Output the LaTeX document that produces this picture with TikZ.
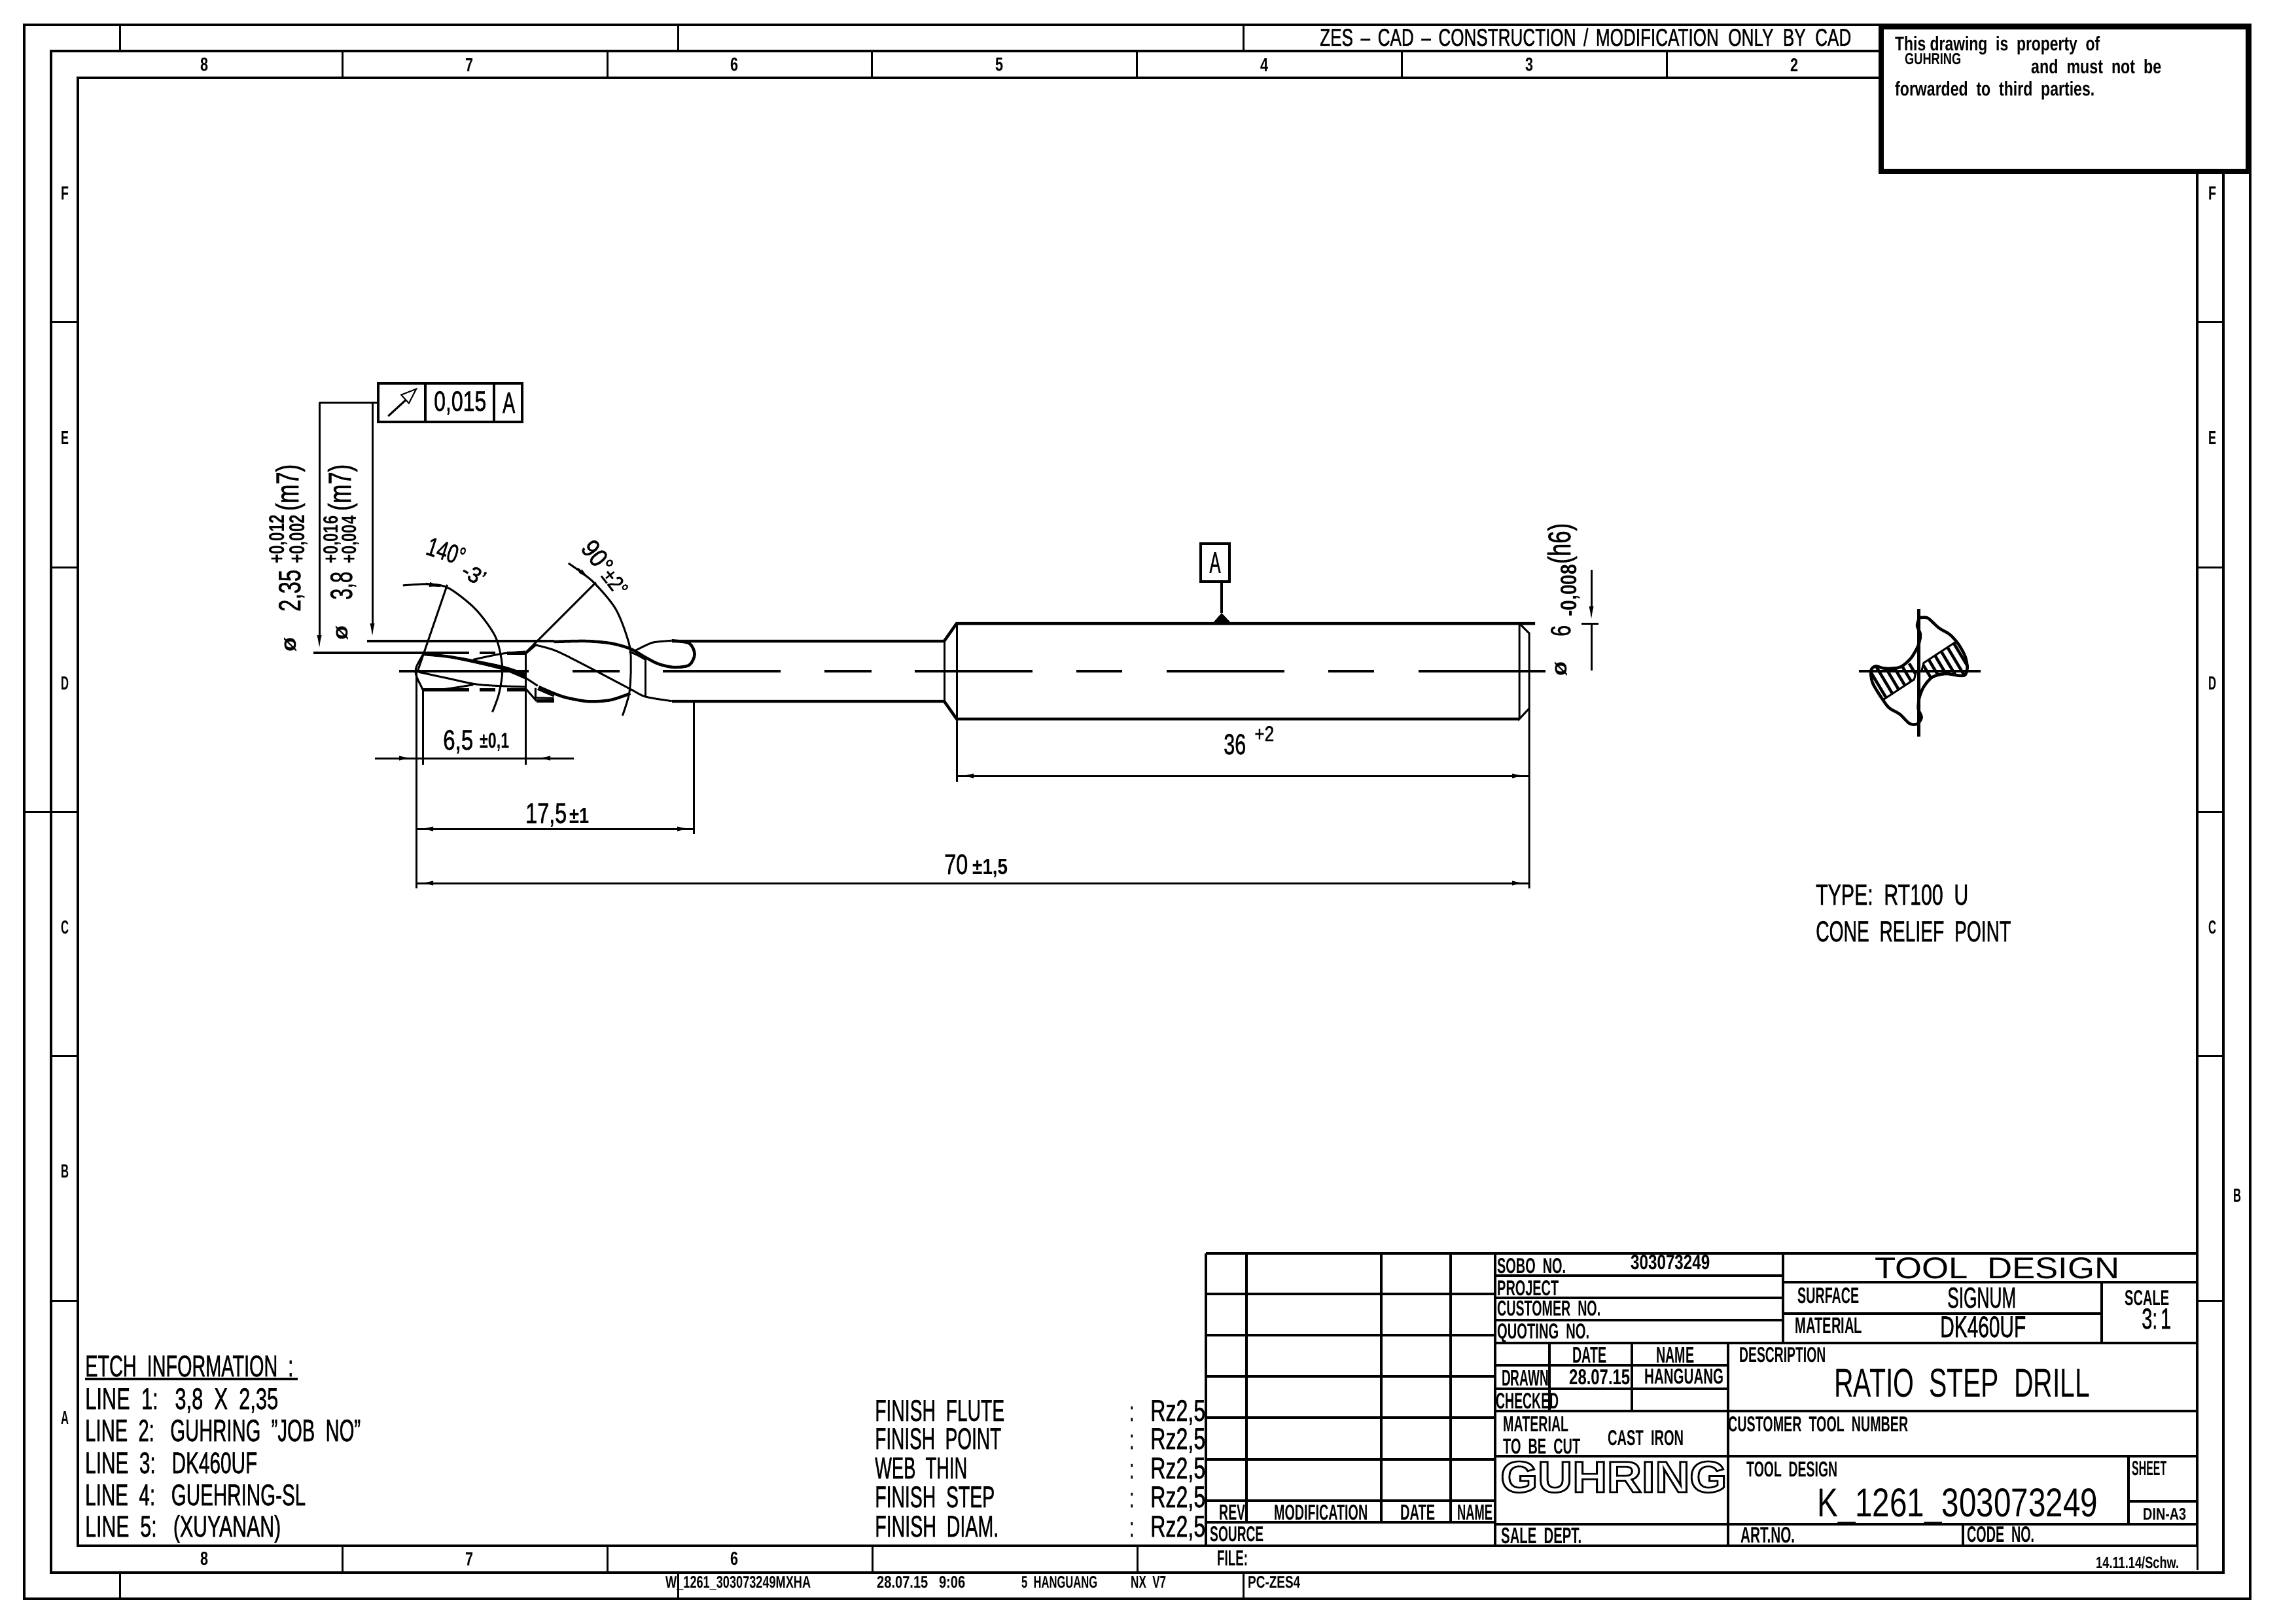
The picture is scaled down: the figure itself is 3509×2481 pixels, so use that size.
\documentclass[tikz,border=0pt]{standalone}
\usepackage{graphicx}
\usepackage{fontspec}
\setmainfont{Liberation Sans}
\usetikzlibrary{arrows.meta,positioning,calc}
\newcommand{\cadthin}[3]{\resizebox{#1pt}{#2pt}{#3}}
\newcommand{\cadt}[3]{\resizebox{#1pt}{#2pt}{\special{pdf:code 2 Tr 0.12 w}#3\special{pdf:code 0 Tr}}}
\newcommand{\cadb}[3]{\resizebox{#1pt}{#2pt}{\bfseries #3}}
\newcommand{\cadhollow}[3]{\resizebox{#1pt}{#2pt}{\bfseries\special{pdf:code 1 Tr 0.4 w}#3\special{pdf:code 0 Tr}}}
\tikzset{
    frameline/.style={draw=black,line width=4pt},
    tickline/.style={draw=black,line width=3pt},
    gridline/.style={draw=black,line width=3.5pt},
    cadline/.style={draw=black,line width=3pt},
    heavyline/.style={draw=black,line width=4.5pt},
    dimline/.style={draw=black,line width=3pt,>={Latex[length=26pt,width=7pt]}},
    lbl/.style={anchor=base west,inner sep=0pt},
    lblup/.style={anchor=base west,inner sep=0pt,rotate=90},
    glyph/.style={anchor=center,inner sep=0pt},
}

\begin{document}
\begin{tikzpicture}[x=1pt,y=-1pt]
\useasboundingbox (0,0) rectangle (3509,2481);

% frames
\draw[frameline] (37,38) rectangle (3439,2444);
\draw[frameline] (78,78) rectangle (3398,2404);
\draw[frameline] (119,119) rectangle (3358,2363);
\foreach \x in {183,1036,1900} {
  \draw[tickline] (\x,38) -- (\x,78);
  \draw[tickline] (\x,2404) -- (\x,2444);
}
\foreach \x in {523,928,1332,1737,2142,2547} \draw[tickline] (\x,78) -- (\x,119);
\foreach \x in {523,928,1333,1738} \draw[tickline] (\x,2363) -- (\x,2404);
\foreach \y in {492,867,1614,1988} \draw[tickline] (78,\y) -- (119,\y);
\draw[tickline] (37,1241) -- (119,1241);
\foreach \y in {492,867,1241,1614,1988} \draw[tickline] (3358,\y) -- (3398,\y);
\foreach \x/\l in {312/8,717/7,1122/6,1527/5,1932/4,2337/3,2742/2}
  \node[glyph] (top\l) at (\x,99) {\cadb{12}{20}{\l}};
\foreach \x/\l in {312/8,717/7,1122/6}
  \node[glyph] (bot\l) at (\x,2383) {\cadb{12}{20}{\l}};
\foreach \y/\l in {295/F,669/E,1044/D,1418/C,1790/B,2167/A}
  \node[glyph] (left\l) at (99,\y) {\cadb{12}{20}{\l}};
\foreach \y/\l in {295/F,669/E,1044/D,1418/C}
  \node[glyph] (right\l) at (3381,\y) {\cadb{12}{20}{\l}};
\node[glyph] (rightB) at (3419,1827) {\cadb{12}{20}{B}};

% header and ownership box
\node[lbl] (zes) at (2017,70) {\cadt{812}{27}{ZES \,--\, CAD \,--\, CONSTRUCTION \,/\, MODIFICATION\ \ ONLY\ \ BY\ \ CAD}};
\draw[draw=black,fill=white,line width=8pt] (2875,41) rectangle (3436,262);
\node[lbl] (own1) at (2896,77) {\cadb{313}{22}{This drawing\ \ is\ \ property\ \ of}};
\node[lbl] (own2) at (2911,99) {\cadb{86}{17}{GUHRING}};
\node[lbl] (own3) at (3104,112) {\cadb{199}{22}{and\ \ must\ \ not\ \ be}};
\node[lbl] (own4) at (2896,146) {\cadb{305}{22}{forwarded\ \ to\ \ third\ \ parties.}};

% title block, revision side
\foreach \y in {1916,1978,2041,2104,2167,2231,2294,2327} \draw[gridline] (1843,\y) -- (2285,\y);
\foreach \x in {1905,2111,2217} \draw[gridline] (\x,1916) -- (\x,2327);
\draw[gridline] (1843,1916) -- (1843,2363);
\draw[gridline] (2285,1916) -- (2285,2363);
\node[lbl] (rev) at (1863,2323) {\cadb{40}{23}{REV}};
\node[lbl] (modif) at (1947,2323) {\cadb{143}{23}{MODIFICATION}};
\node[lbl] (revdate) at (2140,2323) {\cadb{53}{23}{DATE}};
\node[lbl] (revname) at (2227,2323) {\cadb{54}{23}{NAME}};
\node[lbl] (source) at (1849,2356) {\cadb{82}{23}{SOURCE}};
\node[lbl] (file) at (1860,2393) {\cadb{47}{23}{FILE:}};
\node[lbl] (pcname) at (1907,2427) {\cadb{80}{18}{PC-ZES4}};
\node[lbl] (wname) at (1017,2427) {\cadb{222}{18}{W\_1261\_303073249MXHA}};
\node[lbl] (stamp) at (1340,2427) {\cadb{135}{18}{28.07.15\ \ \ 9:06}};
\node[lbl] (user) at (1561,2427) {\cadb{116}{18}{5\ \ HANGUANG}};
\node[lbl] (nxver) at (1728,2427) {\cadb{54}{18}{NX\ \ V7}};

% title block, right side
\draw[gridline] (2285,1916) -- (3358,1916);
\foreach \y in {1950,1984,2018} \draw[gridline] (2285,\y) -- (2725,\y);
\draw[gridline] (2725,1916) -- (2725,2053);
\draw[gridline] (2725,1960) -- (3358,1960);
\draw[gridline] (2725,2008) -- (3212,2008);
\draw[gridline] (3212,1960) -- (3212,2053);
\foreach \y in {2053,2157,2226,2330,2363} \draw[gridline] (2285,\y) -- (3358,\y);
\draw[gridline] (2641,2053) -- (2641,2363);
\draw[gridline] (2368,2053) -- (2368,2157);
\draw[gridline] (2494,2053) -- (2494,2157);
\draw[gridline] (2285,2087) -- (2641,2087);
\draw[gridline] (2285,2123) -- (2641,2123);
\draw[gridline] (3253,2226) -- (3253,2330);
\draw[gridline] (3253,2295) -- (3358,2295);
\draw[gridline] (3000,2330) -- (3000,2363);

\node[lbl] (sobo) at (2288,1946) {\cadb{105}{23}{SOBO\ \ NO.}};
\node[lbl] (sobono) at (2492,1940) {\cadb{121}{22}{303073249}};
\node[lbl] (project) at (2288,1980) {\cadb{94}{23}{PROJECT}};
\node[lbl] (custno) at (2288,2011) {\cadb{158}{23}{CUSTOMER\ \ NO.}};
\node[lbl] (quoting) at (2288,2046) {\cadb{141}{23}{QUOTING\ \ NO.}};
\node[lbl] (tooldesign) at (2865,1954) {\cadthin{374}{32}{TOOL\ \ DESIGN}};
\node[lbl] (surface) at (2747,1992) {\cadb{94}{24}{SURFACE}};
\node[lbl] (signum) at (2976,1999) {\cadt{105}{31}{SIGNUM}};
\node[lbl] (scale) at (3247,1995) {\cadb{68}{23}{SCALE}};
\node[lbl] (ratio) at (3273,2031) {\cadt{45}{31}{3:\,1}};
\node[lbl] (material) at (2743,2038) {\cadb{103}{24}{MATERIAL}};
\node[lbl] (dk) at (2965,2044) {\cadt{131}{32}{DK460UF}};
\node[lbl] (date) at (2403,2083) {\cadb{52}{24}{DATE}};
\node[lbl] (name) at (2531,2083) {\cadb{58}{24}{NAME}};
\node[lbl] (drawn) at (2295,2118) {\cadb{72}{24}{DRAWN}};
\node[lbl] (drawndate) at (2398,2116) {\cadb{93}{23}{28.07.15}};
\node[lbl] (drawnname) at (2513,2115) {\cadb{121}{23}{HANGUANG}};
\node[lbl] (checked) at (2286,2153) {\cadb{96}{24}{CHECKED}};
\node[lbl] (descr) at (2658,2082) {\cadb{132}{23}{DESCRIPTION}};
\node[lbl] (drill) at (2803,2135) {\cadthin{391}{43}{RATIO\ \ STEP\ \ DRILL}};
\node[lbl] (mat1) at (2297,2188) {\cadb{100}{23}{MATERIAL}};
\node[lbl] (mat2) at (2297,2222) {\cadb{118}{23}{TO\ \ BE\ \ CUT}};
\node[lbl] (castiron) at (2457,2209) {\cadb{116}{23}{CAST\ \ IRON}};
\node[lbl] (custtool) at (2641,2188) {\cadb{275}{23}{CUSTOMER\ \ TOOL\ \ NUMBER}};
\node[lbl] (logo) at (2293,2281) {\cadhollow{346}{47}{GUHRING}};
\node[lbl] (tooldesign2) at (2669,2257) {\cadb{139}{23}{TOOL\ \ DESIGN}};
\node[lbl] (toolnumber) at (2777,2318) {\cadthin{429}{43}{K\_1261\_303073249}};
\node[lbl] (sheet) at (3258,2255) {\cadb{53}{22}{SHEET}};
\node[lbl] (din) at (3275,2323) {\cadb{66}{18}{DIN-A3}};
\node[lbl] (sale) at (2294,2359) {\cadb{123}{24}{SALE\ \ DEPT.}};
\node[lbl] (artno) at (2660,2358) {\cadb{83}{24}{ART.NO.}};
\node[lbl] (code) at (3006,2357) {\cadb{103}{24}{CODE\ \ NO.}};
\node[lbl] (scw) at (3203,2397) {\cadb{127}{18}{14.11.14/Schw.}};
\draw[tickline] (3358,2363) -- (3358,2400);

% etch notes
\node[lbl] (etchhead) at (130,2104) {\cadt{318}{32}{ETCH\ \ INFORMATION\ \ :}};
\draw[heavyline] (130,2108) -- (455,2108);
\node[lbl] (etch1) at (130,2154) {\cadt{295}{32}{LINE\ \ 1:\ \ \ 3,8\ \ X\ \ 2,35}};
\node[lbl] (etch2) at (130,2203) {\cadt{421}{33}{LINE\ \ 2:\ \ \ GUHRING\ \ "JOB\ \ NO"}};
\node[lbl] (etch3) at (130,2252) {\cadt{263}{32}{LINE\ \ 3:\ \ \ DK460UF}};
\node[lbl] (etch4) at (130,2301) {\cadt{337}{32}{LINE\ \ 4:\ \ \ GUEHRING-SL}};
\node[lbl] (etch5) at (130,2349) {\cadt{299}{33}{LINE\ \ 5:\ \ \ (XUYANAN)}};

% finish notes
\foreach \y/\n/\l/\w in {2172/a/FINISH\ \ FLUTE/198,2215/b/FINISH\ \ POINT/193,2260/c/WEB\ \ THIN/141,2304/d/FINISH\ \ STEP/183,2349/e/FINISH\ \ DIAM./189} {
  \node[lbl] (finish\n) at (1337,\y) {\cadt{\w}{32}{\l}};
  \node[lbl] (colon\n) at (1726,\y) {\cadt{7}{22}{:}};
  \node[lbl] (rz\n) at (1758,\y) {\cadt{84}{32}{Rz2,5}};
}

% type notes
\node[lbl] (typeline) at (2775,1383) {\cadt{233}{31}{TYPE:\ \ RT100\ \ U}};
\node[lbl] (coneline) at (2775,1439) {\cadt{298}{31}{CONE\ \ RELIEF\ \ POINT}};

% shank and shaft
\draw[heavyline] (1027,980) -- (1443,980) -- (1462,953) -- (2346,953);
\draw[heavyline] (1027,1072) -- (1443,1072) -- (1462,1099) -- (2322,1099);
\draw[cadline] (1443,980) -- (1443,1072);
\draw[cadline] (1462,953) -- (1462,1195);
\draw[cadline] (2322,953) -- (2322,1099) -- (2337,1083);
\draw[cadline] (2322,953) -- (2337,968) -- (2337,1358);
\foreach \a/\b in {1013/1193,1260/1332,1398/1578,1645/1715,1783/1963,2030/2100,2168/2362}
  \draw[heavyline] (\a,1026) -- (\b,1026);

% point and flutes, read at a third of a pixel
\begin{scope}[shift={(600,920)},x=0.3333pt,y=-0.3333pt]
  \draw[heavyline] (-117,180) -- (740,180);
  \draw[heavyline] (-363,234) -- (350,234);
  \draw[heavyline] (400,234) -- (470,234);
  \draw[heavyline] (525,236) -- (612,236);
  \draw[heavyline] (140,403) -- (350,403);
  \draw[heavyline] (400,403) -- (470,403);
  \draw[heavyline] (525,403) -- (612,403);
  \draw[heavyline] (30,318) -- (625,318);
  \draw[heavyline] (825,318) -- (1040,318);
  \draw[cadline] (140,240) .. controls (115,285) and (105,300) .. (105,318) .. controls (105,345) and (125,370) .. (138,403);
  \draw[cadline] (108,318) -- (108,1314);
  \draw[cadline] (138,403) -- (138,746);
  \draw[cadline] (612,236) -- (612,746);
  \draw[cadline] (612,236) -- (660,195);
  \draw[cadline] (612,350) -- (665,385);
  \draw[cadline] (612,400) -- (660,455);
  \draw[heavyline] (660,455) -- (740,455);
  \draw[cadline] (655,395) -- (655,440) -- (740,442);
  \draw[cadline] (665,400) -- (740,432);
  \draw[heavyline] plot[smooth] coordinates {(740,183) (885,180) (1000,190) (1090,215) (1160,255) (1220,285) (1290,300) (1360,290) (1385,240) (1360,190) (1280,178)};
  \draw[cadline] plot[smooth] coordinates {(1280,178) (1200,185) (1160,200) (1110,225)};
  \draw[cadline] plot[smooth] coordinates {(1085,228) (1120,243) (1160,265)};
  \draw[cadline] plot[smooth] coordinates {(655,198) (750,225) (900,300) (1090,400) (1160,435) (1280,455)};
  \draw[heavyline] plot[smooth] coordinates {(670,390) (740,420) (800,440) (900,457) (1000,450) (1090,420)};
  \draw[cadline] (1160,255) -- (1160,435);
  \draw[heavyline] plot[smooth] coordinates {(140,240) (280,255) (500,305) (612,350)};
  \draw[heavyline] plot[smooth] coordinates {(300,258) (500,298) (612,335)};
  \draw[cadline] plot[smooth] coordinates {(370,265) (500,238) (610,228)};
  \draw[cadline] plot[smooth] coordinates {(120,322) (250,350) (400,380) (612,390)};
  \draw[cadline] plot[smooth] coordinates {(140,403) (240,400) (370,380)};
  \draw[cadline] (1383,460) -- (1383,1065);
\end{scope}

% angle arcs and tolerance frame
\begin{scope}[shift={(380,560)},x=0.5102pt,y=-0.3571pt]
  \draw[cadline] plot[smooth] coordinates {(462,938) (540,932) (600,950) (680,1040) (740,1160) (760,1290) (750,1400) (730,1480)};
  \draw[dimline,->] (530,930) -- (592,948);
  \draw[cadline] (595,935) -- (505,1310);
  \draw[cadline] plot[smooth] coordinates {(958,843) (1030,920) (1100,1040) (1140,1190) (1145,1290) (1140,1400) (1120,1495)};
  \draw[dimline,->] (985,865) -- (1032,925);
  \draw[cadline] (1040,925) -- (830,1225);
  \draw[cadline] (418,213) -- (470,145);
  \draw[draw=black,line width=2pt] (457,122) -- (502,97) -- (480,158) -- cycle;
\end{scope}

\draw[gridline] (578,586) rectangle (798,645);
\draw[gridline] (650,586) -- (650,645);
\draw[gridline] (755,586) -- (755,645);
\node[lbl] (tolval) at (663,628) {\cadt{80}{30}{0,015}};
\node[lbl] (tolref) at (768,631) {\cadt{19}{31}{A}};
\draw[cadline] (578,615) -- (488,615);
\draw[dimline,->] (488,615) -- (488,997);
\draw[dimline,->] (569,615) -- (569,979);
\draw[heavyline] (480,998) -- (600,998);
\draw[heavyline] (561,980) -- (600,980);

% dimensions across the diameters
\node[glyph,rotate=90] (phia) at (444,985) {\cadb{22}{18}{ø}};
\node[lblup] (dia235) at (459,935) {\cadt{64}{33}{2,35}};
\node[lblup] (tola) at (434,862) {\cadb{75}{23}{+0,012}};
\node[lblup] (tolb) at (465,862) {\cadb{75}{23}{+0,002}};
\node[lblup] (fita) at (456,781) {\cadt{71}{35}{(m7)}};
\node[glyph,rotate=90] (phib) at (523,967) {\cadb{22}{18}{ø}};
\node[lblup] (dia38) at (538,917) {\cadt{43}{33}{3,8}};
\node[lblup] (tolc) at (516,862) {\cadb{73}{22}{+0,016}};
\node[lblup] (told) at (544,862) {\cadb{73}{22}{+0,004}};
\node[lblup] (fitb) at (536,781) {\cadt{71}{35}{(m7)}};

\node[glyph,rotate=-18] (ang1) at (682,843) {\cadt{60}{28}{140°}};
\node[glyph,rotate=-30] (ang1t) at (724,878) {\cadt{36}{24}{-3'}};
\node[glyph,rotate=-52] (ang2) at (913,851) {\cadt{52}{28}{90°}};
\node[glyph,rotate=-52] (ang2t) at (940,890) {\cadt{42}{24}{±2°}};

% datum A
\node[draw=black,line width=3.5pt,minimum width=44pt,minimum height=58pt,inner sep=0pt] (datum) at (1857,860) {\cadt{17}{31}{A}};
\coordinate (datumfoot) at (1867,937);
\draw[gridline] (datum.south -| datumfoot) -- (datumfoot);
\fill[black] (1853,953) -- (datumfoot) -- (1882,953) -- cycle;

% shaft diameter
\node[glyph,rotate=90] (phic) at (2386,1022) {\cadb{22}{18}{ø}};
\node[lblup] (dia6) at (2400,973) {\cadt{17}{30}{6}};
\node[lblup] (tole) at (2409,943) {\cadb{80}{24}{-0,008}};
\node[lblup] (fitc) at (2400,862) {\cadt{62}{35}{(h6)}};
\draw[dimline,->] (2432,871) -- (2432,953);
\draw[cadline] (2432,953) -- (2432,1025);
\draw[cadline] (2417,953) -- (2443,953);

% length dimensions
\draw[dimline,->] (573,1159) -- (636,1159);
\draw[dimline,->] (877,1159) -- (815,1159);
\draw[cadline] (573,1159) -- (877,1159);
\node[lbl] (len65) at (677,1146) {\cadt{46}{30}{6,5}};
\node[lbl] (tol65) at (733,1143) {\cadb{45}{23}{±0,1}};
\draw[dimline,<->] (636,1267) -- (1061,1267);
\draw[cadline] (636,1267) -- (1061,1267);
\node[lbl] (len175) at (803,1258) {\cadt{63}{30}{17,5}};
\node[lbl] (tol175) at (870,1258) {\cadb{30}{23}{±1}};
\draw[dimline,<->] (1462,1186) -- (2337,1186);
\draw[cadline] (1462,1186) -- (2337,1186);
\node[lbl] (len36) at (1870,1153) {\cadt{34}{31}{36}};
\node[lbl] (tol36) at (1917,1133) {\cadt{30}{23}{+2}};
\draw[dimline,<->] (636,1350) -- (2337,1350);
\draw[cadline] (636,1350) -- (2337,1350);
\node[lbl] (len70) at (1443,1336) {\cadt{36}{30}{70}};
\node[lbl] (tol70) at (1486,1336) {\cadb{54}{23}{±1,5}};

% cross section
\begin{scope}[shift={(2780,900)},x=0.3333pt,y=-0.3333pt]
  \begin{scope}
    \clip (625,245) -- (480,340) -- (470,378) -- (490,420) -- (520,405) -- (580,390) -- (640,398) -- (670,395) -- (680,360) -- (670,310) -- (640,255) -- cycle;
    \foreach \i in {360,400,...,680} \draw[heavyline] (\i,220) -- ++(130,217);
  \end{scope}
  \begin{scope}
    \clip (291,511) -- (436,416) -- (446,378) -- (426,336) -- (396,351) -- (336,366) -- (276,358) -- (246,361) -- (236,396) -- (246,446) -- (276,501) -- cycle;
    \foreach \i in {160,200,...,480} \draw[heavyline] (\i,320) -- ++(130,217);
  \end{scope}
  \draw[heavyline] (183,378) -- (742,378);
  \draw[heavyline] (458,92) -- (458,678);
  \draw[heavyline] plot[smooth cycle] coordinates {(470,132) (500,135) (550,180) (600,210) (640,255) (670,310) (680,360) (670,395) (640,398) (580,390) (520,405) (480,450) (460,500) (455,550) (470,590) (450,620) (415,618) (370,575) (320,545) (280,490) (245,430) (238,375) (260,355) (300,365) (370,360) (420,320) (455,260) (465,210) (450,170) (460,135)};
  \draw[cadline] (625,245) -- (480,340) -- (470,378);
  \draw[cadline] (291,511) -- (436,416) -- (446,378);
\end{scope}
\end{tikzpicture}
\end{document}
